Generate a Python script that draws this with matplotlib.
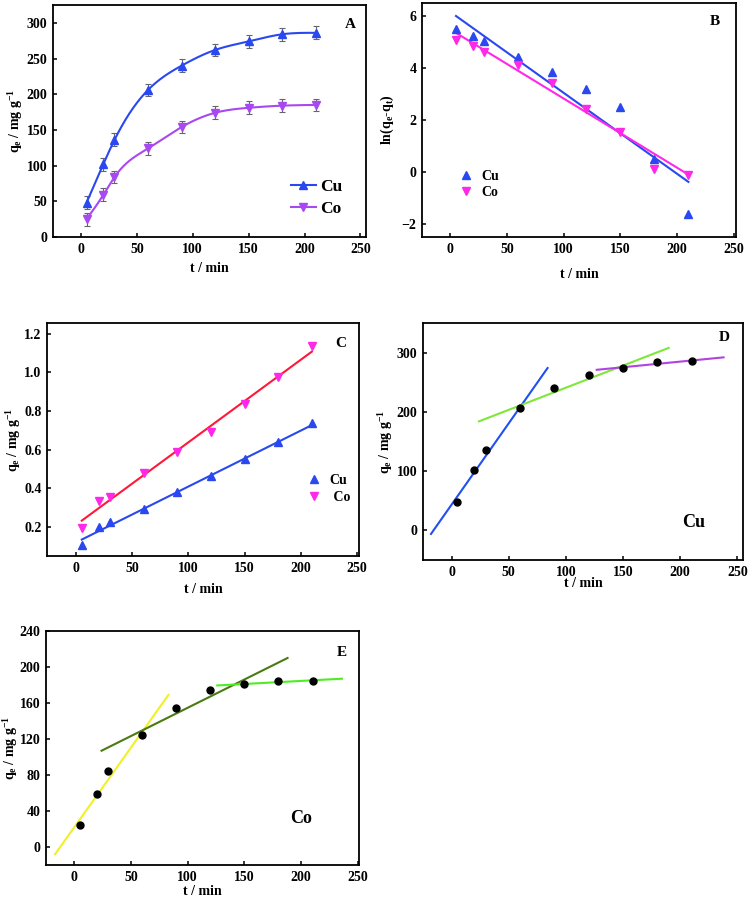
import numpy as np
import matplotlib
matplotlib.use("Agg")
import matplotlib.pyplot as plt

plt.rcParams['font.family'] = ['Liberation Serif', 'DejaVu Serif']
plt.rcParams['font.weight'] = 'bold'
plt.rcParams['axes.labelweight'] = 'bold'
plt.rcParams['mathtext.fontset'] = 'custom'
plt.rcParams['mathtext.rm'] = 'Liberation Serif:bold'
plt.rcParams['mathtext.it'] = 'Liberation Serif:italic:bold'
plt.rcParams['mathtext.bf'] = 'Liberation Serif:bold'

# ---------------- data ----------------
t = [5, 20, 30, 60, 90, 120, 150, 180, 210]
q_cu = [48, 102, 136, 206, 240, 262, 274, 284, 286]
q_co = [25, 59, 84, 124, 154, 174, 181, 184, 185]
err_cu = [9, 9, 9, 9, 9, 9, 9, 9, 9]
err_co = [9, 9, 9, 9, 9, 9, 9, 9, 9]

# pseudo-first-order plot (B)
ln_cu = [5.50, 5.25, 5.04, 4.42, 3.85, 3.19, 2.49, 0.49, -1.60]
ln_co = [5.08, 4.85, 4.62, 4.10, 3.44, 2.41, 1.55, 0.11, -0.13]
fitB_x = [5, 210]
fitB_cu = [6.0, -0.38]
fitB_co = [5.35, -0.10]

# pseudo-second-order plot (C)
tq_cu = [0.106, 0.200, 0.224, 0.295, 0.381, 0.462, 0.553, 0.640, 0.736]
tq_co = [0.197, 0.336, 0.353, 0.481, 0.586, 0.689, 0.834, 0.978, 1.138]
fitC_x = [5, 210]
fitC_cu = [0.135, 0.727]
fitC_co = [0.233, 1.107]

# intraparticle diffusion segments (D: Cu, E: Co)
segD = [([-18, 84], [-6, 274], '#2050f0'),
        ([24, 190], [184, 308], '#7ee83a'),
        ([127, 238], [271, 292], '#b044e0')]
segE = [([-17, 83], [-8, 169], '#f0f028'),
        ([24, 188], [107, 210], '#4a7a12'),
        ([126, 236], [179.5, 187], '#4cee22')]

ylab = r'q$_\mathrm{e}$ / mg g$^\mathrm{-1}$'
xlab = 't / min'
blue = '#2a48f0'
violet = '#a848f0'
magenta = '#ff28e8'


def spline_curve(x, y, n=300):
    # natural cubic spline drawn through the data points (Origin "spline" connect)
    x = np.asarray(x, float)
    y = np.asarray(y, float)
    h = np.diff(x)
    m = len(x)
    A = np.zeros((m, m))
    r = np.zeros(m)
    A[0, 0] = A[-1, -1] = 1
    for i in range(1, m - 1):
        A[i, i - 1] = h[i - 1]
        A[i, i] = 2 * (h[i - 1] + h[i])
        A[i, i + 1] = h[i]
        r[i] = 3 * ((y[i + 1] - y[i]) / h[i] - (y[i] - y[i - 1]) / h[i - 1])
    c = np.linalg.solve(A, r)
    xs = np.linspace(x[0], x[-1], n)
    idx = np.clip(np.searchsorted(x, xs) - 1, 0, m - 2)
    dx = xs - x[idx]
    b = (y[idx + 1] - y[idx]) / h[idx] - h[idx] * (2 * c[idx] + c[idx + 1]) / 3
    d = (c[idx + 1] - c[idx]) / (3 * h[idx])
    return xs, y[idx] + b * dx + c[idx] * dx ** 2 + d * dx ** 3


W, H = 755, 899
fig = plt.figure(figsize=(W / 100, H / 100), dpi=100)


def make_axes(x0, y0, x1, y1):
    ax = fig.add_axes([x0 / W, (H - y1) / H, (x1 - x0) / W, (y1 - y0) / H])
    for s in ax.spines.values():
        s.set_linewidth(1.3)
    ax.tick_params(direction='in', length=3, width=1.1, labelsize=10,
                   top=False, right=False, pad=4)
    ax.set_xticks([0, 50, 100, 150, 200, 250])
    return ax


def letter(ax, s, x, y, size=11):
    ax.text(x, y, s, transform=ax.transAxes, fontsize=size,
            fontweight='bold', ha='center', va='center')


# ---------------- A ----------------
ax = make_axes(53, 5, 366, 237)
ax.set_xlim(-25, 255)
ax.set_ylim(0, 325)
ax.set_yticks(range(0, 301, 50))
ax.errorbar(t, q_cu, yerr=err_cu, fmt='none', ecolor='#666666', elinewidth=0.8,
            capsize=2, capthick=0.8)
ax.errorbar(t, q_co, yerr=err_co, fmt='none', ecolor='#666666', elinewidth=0.8,
            capsize=2, capthick=0.8)
xs, ys = spline_curve(t, q_cu)
ax.plot(xs, ys, color=blue, lw=1.5)
xs, ys = spline_curve(t, q_co)
ax.plot(xs, ys, color=violet, lw=1.5)
ax.plot(t, q_cu, ls='none', marker='^', ms=5.5, color=blue)
ax.plot(t, q_co, ls='none', marker='v', ms=5.5, color=violet)
h1, = ax.plot([], [], color=blue, lw=1.5, marker='^', ms=5.5, label='Cu')
h2, = ax.plot([], [], color=violet, lw=1.5, marker='v', ms=5.5, label='Co')
ax.legend(handles=[h1, h2], loc='center left', bbox_to_anchor=(0.76, 0.168),
          frameon=False, handlelength=1.45, handletextpad=0.25, labelspacing=0.35,
          borderpad=0, borderaxespad=0, prop={'size': 12.5, 'weight': 'bold'})
ax.set_xlabel(xlab, fontsize=10, labelpad=5)
ax.set_ylabel(ylab, fontsize=10, labelpad=1)
letter(ax, 'A', 0.949, 0.914)

# ---------------- B ----------------
ax = make_axes(422, 3, 736, 237)
ax.set_xlim(-25, 252)
ax.set_ylim(-2.5, 6.5)
ax.set_yticks([-2, 0, 2, 4, 6])
ax.plot(fitB_x, fitB_cu, color=blue, lw=1.5)
ax.plot(fitB_x, fitB_co, color=magenta, lw=1.5)
ax.plot(t, ln_cu, ls='none', marker='^', ms=6, color=blue, label='Cu')
ax.plot(t, ln_co, ls='none', marker='v', ms=6, color=magenta, label='Co')
ax.legend(loc='center left', bbox_to_anchor=(0.115, 0.224), frameon=False,
          handlelength=1.2, handletextpad=0.5, labelspacing=0.25, borderpad=0,
          borderaxespad=0, prop={'size': 10, 'weight': 'bold'})
ax.set_xlabel(xlab, fontsize=10, labelpad=9)
ax.set_ylabel(r'ln(q$_\mathrm{e}$-q$_\mathrm{t}$)', fontsize=10, labelpad=4)
letter(ax, 'B', 0.933, 0.923)

# ---------------- C ----------------
ax = make_axes(47, 323, 359, 556)
ax.set_xlim(-26, 252)
ax.set_ylim(0.05, 1.255)
ax.set_yticks([0.2, 0.4, 0.6, 0.8, 1.0, 1.2])
ax.yaxis.set_major_formatter(matplotlib.ticker.FormatStrFormatter('%.1f'))
ax.plot(fitC_x, fitC_cu, color=blue, lw=1.5)
ax.plot(fitC_x, fitC_co, color='#ff1838', lw=1.5)
ax.plot(t, tq_cu, ls='none', marker='^', ms=6, color=blue, label='Cu')
ax.plot(t, tq_co, ls='none', marker='v', ms=6, color=magenta, label=' Co')
ax.legend(loc='center left', bbox_to_anchor=(0.83, 0.288), frameon=False,
          handlelength=1.2, handletextpad=0.5, labelspacing=0.25, borderpad=0,
          borderaxespad=0, prop={'size': 10, 'weight': 'bold'})
ax.set_xlabel(xlab, fontsize=10, labelpad=6)
ax.set_ylabel(ylab, fontsize=10, labelpad=1)
letter(ax, 'C', 0.941, 0.91)

# ---------------- D ----------------
ax = make_axes(423, 323, 743, 560)
ax.set_xlim(-25, 255)
ax.set_ylim(-50, 350)
ax.set_yticks([0, 100, 200, 300])
for sx, sy, col in segD:
    ax.plot(sx, sy, color=col, lw=1.5)
ax.plot(t, q_cu, ls='none', marker='o', ms=5, color='black')
ax.set_xlabel(xlab, fontsize=10, labelpad=-1)
ax.set_ylabel(ylab, fontsize=10, labelpad=1)
letter(ax, 'D', 0.94, 0.937)
letter(ax, 'Cu', 0.847, 0.16, size=13)

# ---------------- E ----------------
ax = make_axes(46, 631, 359, 865)
ax.set_xlim(-25, 251)
ax.set_ylim(-20, 240)
ax.set_yticks(range(0, 241, 40))
for sx, sy, col in segE:
    ax.plot(sx, sy, color=col, lw=1.5)
ax.plot(t, q_co, ls='none', marker='o', ms=5, color='black')
ax.set_xlabel(xlab, fontsize=10, labelpad=1)
ax.set_ylabel(ylab, fontsize=10, labelpad=0)
letter(ax, 'E', 0.946, 0.906)
letter(ax, 'Co', 0.815, 0.2, size=13)

fig.savefig('out.png', dpi=100)
